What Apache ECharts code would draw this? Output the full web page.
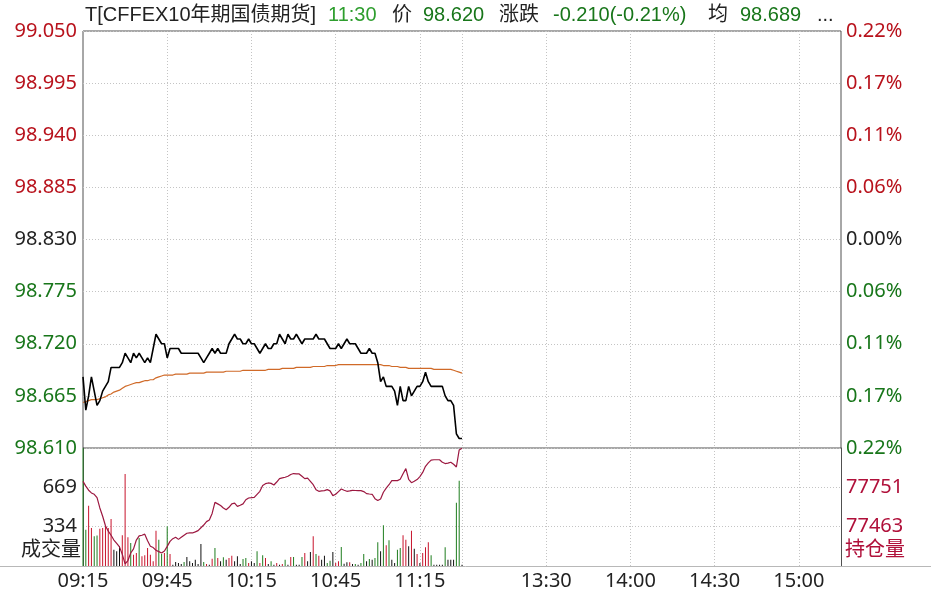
<!DOCTYPE html>
<html><head><meta charset="utf-8">
<script src="https://cdn.jsdelivr.net/npm/echarts@6/dist/echarts.min.js"></script>
<style>html,body{margin:0;padding:0;background:#fff}#c{width:931px;height:597px}</style>
</head><body><div id="c"></div>
<script>
// ---------- data ----------
const prevClose = 98.830;
const sessions = [['09:15', '11:30'], ['13:01', '15:15']];
const labelTimes = ['09:15', '09:45', '10:15', '10:45', '11:15', '13:30', '14:00', '14:30', '15:00'];
const gridTimes = ['09:45', '10:15', '10:45', '11:15', '11:30', '13:30', '14:00', '14:30', '15:00'];

const price = [
  98.685, 98.650, 98.665, 98.685, 98.670, 98.655, 98.660, 98.670, 98.675, 98.680,
  98.695, 98.695, 98.695, 98.695, 98.700, 98.710, 98.705, 98.700, 98.710, 98.705,
  98.710, 98.705, 98.700, 98.705, 98.700, 98.715, 98.730, 98.725, 98.720, 98.720,
  98.705, 98.715, 98.715, 98.715, 98.715, 98.710, 98.710, 98.710, 98.710, 98.710,
  98.710, 98.710, 98.705, 98.700, 98.705, 98.710, 98.715, 98.710, 98.715, 98.710,
  98.710, 98.710, 98.720, 98.725, 98.730, 98.725, 98.725, 98.720, 98.720, 98.725,
  98.720, 98.720, 98.715, 98.710, 98.715, 98.720, 98.715, 98.715, 98.720, 98.720,
  98.730, 98.725, 98.720, 98.730, 98.725, 98.725, 98.730, 98.725, 98.720, 98.725,
  98.725, 98.725, 98.725, 98.730, 98.725, 98.725, 98.725, 98.720, 98.715, 98.715,
  98.715, 98.720, 98.715, 98.720, 98.725, 98.720, 98.720, 98.720, 98.715, 98.710,
  98.710, 98.710, 98.715, 98.710, 98.710, 98.700, 98.680, 98.685, 98.675, 98.675,
  98.675, 98.670, 98.655, 98.675, 98.660, 98.660, 98.675, 98.665, 98.670, 98.675,
  98.675, 98.680, 98.690, 98.680, 98.675, 98.675, 98.675, 98.675, 98.675, 98.665,
  98.660, 98.660, 98.655, 98.625, 98.620, 98.620
];
const avgPrice = [
  98.658, 98.659, 98.660, 98.661, 98.661, 98.661, 98.662, 98.663, 98.664, 98.666,
  98.667, 98.669, 98.670, 98.671, 98.673, 98.675, 98.676, 98.677, 98.678, 98.679,
  98.679, 98.680, 98.681, 98.681, 98.682, 98.682, 98.684, 98.685, 98.686, 98.687,
  98.687, 98.687, 98.687, 98.688, 98.688, 98.688, 98.688, 98.688, 98.689, 98.689,
  98.689, 98.689, 98.689, 98.689, 98.690, 98.690, 98.690, 98.690, 98.690, 98.690,
  98.690, 98.691, 98.691, 98.691, 98.691, 98.691, 98.691, 98.692, 98.692, 98.692,
  98.692, 98.692, 98.692, 98.692, 98.692, 98.692, 98.693, 98.693, 98.693, 98.693,
  98.693, 98.694, 98.694, 98.694, 98.694, 98.694, 98.695, 98.695, 98.695, 98.695,
  98.695, 98.695, 98.696, 98.696, 98.696, 98.696, 98.696, 98.697, 98.697, 98.697,
  98.697, 98.698, 98.698, 98.698, 98.698, 98.698, 98.698, 98.698, 98.698, 98.698,
  98.698, 98.698, 98.698, 98.698, 98.698, 98.698, 98.698, 98.697, 98.697, 98.697,
  98.696, 98.696, 98.696, 98.695, 98.695, 98.695, 98.694, 98.694, 98.694, 98.694,
  98.694, 98.694, 98.694, 98.694, 98.694, 98.693, 98.693, 98.693, 98.693, 98.693,
  98.693, 98.693, 98.692, 98.691, 98.690, 98.689
];
const volume = [
  1003, 309, 513, 323, 252, 260, 316, 323, 337, 323,
  400, 139, 125, 167, 261, 782, 244, 195, 96, 110,
  238, 82, 91, 153, 96, 40, 300, 224, 102, 110,
  337, 102, 11, 34, 25, 17, 34, 76, 40, 25,
  54, 17, 187, 34, 17, 11, 62, 153, 68, 40,
  74, 54, 68, 88, 40, 82, 17, 59, 68, 25,
  40, 25, 125, 25, 91, 68, 17, 40, 11, 25,
  11, 17, 54, 11, 76, 76, 11, 11, 76, 110,
  40, 119, 252, 102, 88, 54, 88, 25, 45, 119,
  25, 40, 161, 20, 31, 31, 17, 17, 11, 25,
  102, 40, 59, 54, 68, 201, 125, 346, 176, 218,
  54, 25, 139, 153, 261, 224, 167, 300, 147, 102,
  25, 110, 159, 201, 91, 11, 11, 11, 11, 159,
  54, 54, 54, 538, 725, 11
];
// r = up (red), g = down (green), k = unchanged (black)
const volumeDir = (
  'ggrrggrrrr' + 'rkkkrrrgrr' + 'grrrrrrggr' + 'grkkkkgkkk' + 'kkkgrkrgrk' +
  'gkrrkkkggr' + 'kkgrgrkgkr' + 'krgkrgkkgr' + 'kkrgrkkggk' + 'rrgkkrkgkg' +
  'gkgkggkgrg' + 'kkggrrkrkr' + 'krrrgkkkkg' + 'kkkggk').split('');
const openInterest = [
  77795, 77760, 77730, 77710, 77700, 77675, 77600, 77539, 77470, 77430,
  77400, 77365, 77340, 77315, 77260, 77190, 77215, 77270, 77300, 77365,
  77395, 77400, 77408, 77360, 77320, 77310, 77290, 77280, 77270, 77285,
  77319, 77355, 77375, 77385, 77370, 77385, 77400, 77415, 77417, 77417,
  77425, 77434, 77455, 77475, 77500, 77512, 77560, 77641, 77630, 77618,
  77600, 77587, 77605, 77630, 77635, 77612, 77620, 77630, 77660, 77673,
  77675, 77678, 77700, 77722, 77765, 77778, 77783, 77780, 77768, 77790,
  77815, 77820, 77825, 77832, 77845, 77852, 77850, 77849, 77832, 77815,
  77818, 77795, 77770, 77734, 77722, 77725, 77727, 77734, 77725, 77690,
  77700, 77720, 77739, 77730, 77722, 77725, 77729, 77728, 77727, 77727,
  77720, 77705, 77702, 77700, 77668, 77655, 77665, 77715, 77745, 77770,
  77800, 77800, 77800, 77810, 77850, 77888, 77810, 77785, 77795, 77808,
  77830, 77860, 77905, 77930, 77950, 77953, 77953, 77953, 77935, 77925,
  77928, 77935, 77920, 77900, 78025, 78037
];
const oiMin = 77175, oiStep = 288;      // open-interest axis: 77175 .. 78039
const volMax = 1003.2, volStep = 334.4; // volume axis: 0 .. 1003
const priceStep = 55;                    // 0.055 in 1/1000 units

// ---------- build ----------
function toMin(s) { const p = s.split(':'); return +p[0] * 60 + +p[1]; }
function fmt(m) { const h = Math.floor(m / 60), mm = m % 60; return (h < 10 ? '0' : '') + h + ':' + (mm < 10 ? '0' : '') + mm; }
const times = [];
sessions.forEach(([a, b]) => { for (let m = toMin(a); m <= toMin(b); m++) times.push(fmt(m)); });
const labelSet = new Set(labelTimes), gridSet = new Set(gridTimes);

const RED = '#b8121c', GREEN = '#18761a', BLACK = '#222';
const FONT = "'Noto Sans', 'Noto Sans CJK SC', sans-serif";
const TFONT = "20px 'Liberation Sans', 'Noto Sans CJK SC', sans-serif";
const dirColor = { r: '#c8142c', g: '#1e7d1e', k: '#111111' };

const rel = p => +((p - prevClose) * 1000).toFixed(3);

const chart = echarts.init(document.getElementById('c'), null, { renderer: 'canvas' });
const splitDotted = { show: true, lineStyle: { color: '#c4c4c4', type: [1, 2], width: 1 } };

const option = {
  animation: false,
  backgroundColor: '#fff',
  grid: [
    { left: 83, right: 90, top: 31, height: 417, show: true, borderColor: '#505050', borderWidth: 1, backgroundColor: 'transparent' },
    { left: 83, right: 90, top: 448, height: 118 }
  ],
  xAxis: [
    {
      type: 'category', gridIndex: 0, data: times, boundaryGap: false,
      axisLine: { show: false }, axisTick: { show: false }, axisLabel: { show: false },
      splitLine: Object.assign({ interval: (i, v) => gridSet.has(v) }, splitDotted)
    },
    {
      type: 'category', gridIndex: 1, data: times, boundaryGap: false,
      axisLine: { show: false }, axisTick: { show: false },
      axisLabel: { interval: (i, v) => labelSet.has(v), color: BLACK, fontSize: 20, fontFamily: FONT, margin: 5 },
      splitLine: Object.assign({ interval: (i, v) => gridSet.has(v) }, splitDotted)
    }
  ],
  yAxis: [
    {
      type: 'value', gridIndex: 0, position: 'left', min: -4 * priceStep, max: 4 * priceStep, interval: priceStep,
      axisLine: { show: false }, axisTick: { show: false },
      splitLine: splitDotted,
      axisLabel: {
        showMinLabel: true, showMaxLabel: true, margin: 6, fontSize: 20, fontFamily: FONT,
        formatter: v => (prevClose + v / 1000).toFixed(3),
        color: v => (v > 0.5 ? RED : v < -0.5 ? GREEN : BLACK)
      }
    },
    {
      type: 'value', gridIndex: 0, position: 'right', min: -4 * priceStep, max: 4 * priceStep, interval: priceStep,
      axisLine: { show: false }, axisTick: { show: false }, splitLine: { show: false },
      axisLabel: {
        showMinLabel: true, showMaxLabel: true, margin: 5, fontSize: 20, fontFamily: FONT,
        formatter: v => Math.abs(v / 1000 / prevClose * 100).toFixed(2) + '%',
        color: v => (v > 0.5 ? RED : v < -0.5 ? GREEN : BLACK)
      }
    },
    {
      type: 'value', gridIndex: 1, position: 'left', min: 0, max: volMax, interval: volStep,
      axisLine: { show: true, lineStyle: { color: '#505050' } }, axisTick: { show: false },
      splitLine: splitDotted,
      axisLabel: {
        margin: 6, fontSize: 20, fontFamily: FONT, color: BLACK,
        formatter: v => (v > 1 && v < volMax - 1 ? String(Math.round(v)) : '')
      }
    },
    {
      type: 'value', gridIndex: 1, position: 'right', min: 0, max: 3 * oiStep, interval: oiStep,
      axisLine: { show: true, lineStyle: { color: '#505050' } }, axisTick: { show: false },
      splitLine: { show: false },
      axisLabel: {
        margin: 5, fontSize: 20, fontFamily: FONT, color: '#b0103a',
        formatter: v => (v > 1 && v < 3 * oiStep - 1 ? String(Math.round(v + oiMin)) : '')
      }
    }
  ],
  series: [
    {
      type: 'bar', xAxisIndex: 1, yAxisIndex: 2, barWidth: 1, silent: true,
      data: volume.map((v, i) => ({ value: v, itemStyle: { color: dirColor[volumeDir[i]] } }))
    },
    {
      type: 'line', xAxisIndex: 1, yAxisIndex: 3, symbol: 'none', silent: true,
      lineStyle: { color: '#9c1840', width: 1.2 },
      data: openInterest.map(v => v - oiMin)
    },
    {
      type: 'line', xAxisIndex: 0, yAxisIndex: 0, symbol: 'none', silent: true,
      lineStyle: { color: '#d06a28', width: 1.2 },
      data: avgPrice.map(rel)
    },
    {
      type: 'line', xAxisIndex: 0, yAxisIndex: 0, symbol: 'none', silent: true,
      lineStyle: { color: '#000', width: 1.6 },
      data: price.map(rel)
    }
  ],
  graphic: [
    { type: 'line', shape: { x1: 0, y1: 566.5, x2: 931, y2: 566.5 }, style: { stroke: '#b8b8b8', lineWidth: 1 }, z: 10 },
    { type: 'text', left: 21, top: 540, style: { text: '成交量', fill: BLACK, font: '20px ' + FONT } },
    { type: 'text', left: 845, top: 540, style: { text: '持仓量', fill: '#b0103a', font: '20px ' + FONT } },
    { type: 'text', x: 85, y: 15, style: { text: 'T[CFFEX10年期国债期货]', fill: BLACK, font: TFONT, verticalAlign: 'middle' } },
    { type: 'text', x: 328, y: 15, style: { text: '11:30', fill: '#2e9e2e', font: TFONT, verticalAlign: 'middle' } },
    { type: 'text', x: 392, y: 15, style: { text: '价', fill: BLACK, font: TFONT, verticalAlign: 'middle' } },
    { type: 'text', x: 423, y: 15, style: { text: '98.620', fill: GREEN, font: TFONT, verticalAlign: 'middle' } },
    { type: 'text', x: 499, y: 15, style: { text: '涨跌', fill: BLACK, font: TFONT, verticalAlign: 'middle' } },
    { type: 'text', x: 553, y: 15, style: { text: '-0.210(-0.21%)', fill: GREEN, font: TFONT, verticalAlign: 'middle' } },
    { type: 'text', x: 708, y: 15, style: { text: '均', fill: BLACK, font: TFONT, verticalAlign: 'middle' } },
    { type: 'text', x: 740, y: 15, style: { text: '98.689', fill: GREEN, font: TFONT, verticalAlign: 'middle' } },
    { type: 'text', x: 817, y: 15, style: { text: '...', fill: BLACK, font: TFONT, verticalAlign: 'middle' } }
  ]
};
chart.setOption(option);
</script>
</body></html>
